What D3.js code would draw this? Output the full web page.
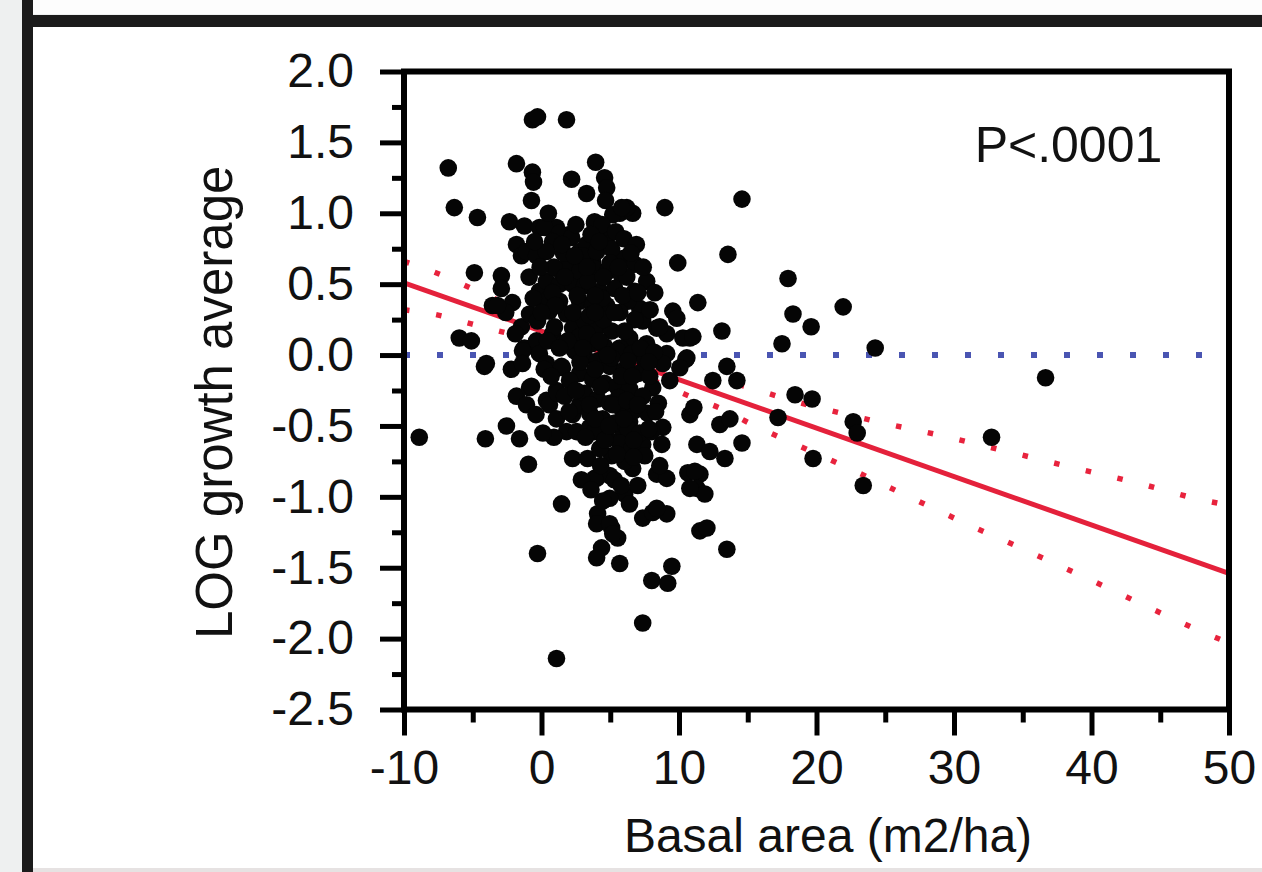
<!DOCTYPE html>
<html>
<head>
<meta charset="utf-8">
<script src="https://cdn.jsdelivr.net/npm/d3@7"></script>
<style>
  html, body { margin: 0; padding: 0; background: #eef0f0; }
  svg { display: block; }
  text { font-family: "Liberation Sans", Arial, sans-serif; fill: #111; }
</style>
</head>
<body>
<svg id="chart" width="1262" height="872"></svg>
<script>

// basal area (m2/ha) vs LOG growth average
var points = [
  [-0.66,1.66],[-0.29,1.68],[1.82,1.66],[-6.78,1.32],[-6.34,1.04],[-4.66,0.97],[-4.88,0.58],
  [-5.98,0.12],[-5.10,0.10],[-4.15,-0.08],[-8.89,-0.58],[-4.08,-0.59],[-0.95,-0.77],[-0.29,-1.40],
  [1.09,-2.14],[1.46,-1.05],[7.36,-1.89],[8.02,-1.59],[9.18,-1.61],[9.48,-1.49],[14.58,1.10],
  [8.97,1.04],[13.56,0.71],[9.91,0.65],[17.93,0.54],[18.29,0.29],[19.61,0.20],[21.94,0.34],
  [24.27,0.05],[11.37,0.37],[13.12,0.17],[17.49,0.08],[36.66,-0.16],[18.44,-0.28],[19.68,-0.31],
  [17.20,-0.44],[22.67,-0.47],[22.96,-0.55],[19.75,-0.73],[23.40,-0.92],[32.73,-0.58],[14.58,-0.62],
  [13.48,-0.08],[12.46,-0.18],[14.21,-0.18],[10.79,-0.42],[11.08,-0.37],[12.97,-0.49],[13.70,-0.45],
  [11.30,-0.63],[12.24,-0.68],[13.34,-0.73],[10.64,-0.83],[11.52,-0.84],[11.30,-0.94],[11.88,-0.98],
  [11.52,-1.24],[12.03,-1.22],[13.48,-1.37],[8.38,-0.84],[9.11,-0.87],[7.36,-1.15],[8.09,-1.11],
  [9.11,-1.12],[5.10,-1.22],[6.05,-0.98],[4.96,-1.01],[4.08,-1.12],[4.01,-1.19],[5.54,-1.29],
  [4.37,-1.36],[4.01,-1.43],[5.69,-1.47],[2.26,-0.73],[3.35,-0.73],[4.01,-0.87],[4.96,-0.85],
  [8.75,-0.63],[8.82,-0.51],[1.82,-0.54],[2.55,-0.54],[-2.55,-0.50],[-1.60,-0.59],[-1.82,-0.29],
  [-0.87,-0.23],[-1.09,-0.35],[0.36,-0.32],[1.09,-0.25],[-2.19,-0.10],[-1.24,0.05],[-3.57,0.35],
  [-2.11,0.37],[-1.46,0.20],[-2.92,0.56],[-2.92,0.47],[-1.82,0.78],[-1.46,0.70],[-1.09,0.73],
  [-0.15,0.71],[-2.33,0.94],[-1.24,0.91],[-0.15,0.90],[1.09,0.90],[2.04,0.85],[3.86,0.93],
  [5.69,1.00],[6.63,1.00],[6.20,1.04],[-1.82,1.35],[-0.66,1.29],[-0.58,1.22],[-0.73,1.09],
  [2.19,1.24],[3.94,1.36],[4.59,1.25],[4.74,1.18],[3.28,1.14],[4.66,1.09],[9.55,0.31],
  [9.84,0.26],[10.79,0.12],[9.11,0.15],[10.50,-0.03],
  [0.22,0.90],[1.31,0.86],[2.19,0.83],[0.80,0.80],[-0.36,0.70],[0.36,0.73],[-0.15,0.45],
  [0.36,0.52],[1.31,0.50],[2.26,0.50],[1.09,0.61],[2.04,0.65],[2.77,0.73],[-0.87,0.29],
  [-0.29,0.24],[0.58,0.31],[1.31,0.38],[1.82,0.29],[0.80,0.15],[-0.36,0.10],[-0.15,0.01],
  [-1.38,0.03],[-1.38,-0.06],[0.36,-0.06],[1.53,-0.09],[1.53,0.08],[2.26,0.19],[-4.01,-0.06],
  [3.86,0.94],[4.74,0.83],[5.18,0.99],
  [5.83,1.04],[4.74,0.85],[3.28,0.78],[5.90,0.68],[6.78,0.64],[3.72,0.66],[7.65,0.52],
  [8.24,0.44],[6.78,0.45],[7.14,0.33],[7.36,0.24],[8.38,0.19],[10.28,0.12],[11.01,0.13],
  [6.41,0.12],[7.65,0.08],[9.11,0.01],[10.57,-0.02],[5.69,0.05],
  [1.46,-0.08],[-0.73,-0.22],[0.58,-0.35],[1.17,-0.27],[1.09,-0.45],[2.26,-0.42],[2.77,-0.35],
  [3.50,-0.51],[4.45,-1.03],[4.96,-1.19],
  [3.86,-0.87],[6.63,-0.80],[11.15,-0.82],[10.79,-0.94],[5.18,-1.26],[8.38,-1.08],[7.36,-0.63],
  [6.41,-0.47],[5.90,-0.54],[8.09,-0.23],[9.33,-0.18],[10.06,-0.09],[8.82,-0.06],
  [2.99,0.70],[4.01,0.73],[5.10,0.75],[2.77,0.59],[3.86,0.61],[4.81,0.59],[5.83,0.56],
  [3.13,0.49],[4.23,0.45],[5.32,0.47],[6.27,0.38],[2.77,0.38],[3.72,0.35],[4.74,0.35],
  [5.69,0.30],[6.78,0.25],[3.13,0.24],[4.08,0.20],[5.10,0.17],[6.05,0.17],[2.77,0.13],
  [3.64,0.08],[4.59,0.06],[5.54,0.03],[6.56,0.01],[7.51,-0.04],[3.13,-0.01],[4.08,-0.04],
  [4.96,-0.08],[6.05,-0.10],[7.00,-0.13],[7.87,-0.15],[2.77,-0.13],[3.72,-0.17],[4.59,-0.20],
  [5.47,-0.22],[6.41,-0.24],[7.36,-0.29],[3.13,-0.27],[4.08,-0.31],[4.96,-0.34],[5.83,-0.38],
  [6.78,-0.39],[7.73,-0.41],[3.50,-0.41],[4.45,-0.45],[5.32,-0.48],[6.27,-0.52],[7.14,-0.55],
  [8.02,-0.54],[3.86,-0.54],[4.81,-0.59],[5.69,-0.62],[6.56,-0.66],[7.51,-0.71],[5.10,-0.71],
  [6.05,-0.75],[4.23,-0.66],[2.41,0.03],[2.04,-0.18],[1.68,-0.29],[0.22,0.38],[0.95,0.20],
  [0.44,0.10],
  [0.90,0.62],[1.60,0.72],[2.50,0.92],[3.40,0.52],[4.40,0.92],[5.40,0.87],[6.00,0.82],
  [6.90,0.78],[7.40,0.62],[6.20,0.55],[2.30,0.30],[3.50,0.28],[4.40,0.40],[5.90,0.42],
  [7.00,0.44],[7.90,0.32],[8.60,0.20],[2.30,0.05],[3.30,0.15],[4.20,0.10],[5.10,-0.02],
  [6.30,-0.04],[7.20,0.05],[8.20,0.02],[8.50,-0.34],[7.80,-0.52],[8.60,-0.78],[7.00,-0.92],
  [6.40,-1.05],[5.30,-0.88],[3.20,-0.58],[2.90,-0.88],[0.90,-0.58],[0.20,-0.10],[-0.60,0.40],
  [-0.90,0.55],[-0.10,0.62],[0.80,0.44],[1.90,0.10],[2.80,-0.05],[3.50,-0.35],[4.60,-0.60],
  [5.60,-0.30],[6.70,-0.60],[-2.60,0.30],[-1.90,0.15],[-3.20,0.35],[0.10,-0.55],[-0.40,-0.42],
  [3.60,0.85],[4.20,0.80],[5.00,0.65],[4.50,0.55],[3.30,0.62],[2.60,0.42],[3.90,0.42],
  [5.60,0.62],[6.50,0.72],[4.50,0.25],[5.30,0.30],[3.90,0.30],[3.00,0.05],[3.90,-0.10],
  [4.80,0.00],[5.80,-0.15],[6.60,-0.15],[4.30,-0.22],[5.20,-0.35],[6.20,-0.32],[3.90,-0.45],
  [4.90,-0.50],[6.00,-0.45],[7.00,-0.35],[4.30,-0.78],[5.50,-0.70],[6.70,-0.72],[3.60,-0.95],
  [5.80,-0.92],[1.00,0.35],[1.70,0.55],[0.00,0.30],[1.30,0.05],[0.70,-0.15],[2.00,-0.40],
  [1.50,0.78],[2.40,0.70],[-0.50,0.80],[0.50,1.00],[7.80,-0.05],[8.30,-0.40],[2.50,-0.25]
];

// fitted line and its confidence band
var fitLine = [[-10, 0.51], [50, -1.54]];
var upperBand = [[-10,0.66],[-7.14,0.56],[-5.08,0.47],[0,0.25],[5,0.05],[10.42,-0.11],[15.16,-0.23],
  [17.49,-0.30],[24.43,-0.47],[29.15,-0.57],[33.89,-0.68],[38.48,-0.79],[43.23,-0.90],[47.97,-1.02],[50,-1.06]];
var lowerBand = [[-10,0.32],[-7.43,0.28],[-5.10,0.22],[-2.70,0.16],[0,0.10],[5,-0.05],[11.01,-0.30],
  [13.12,-0.38],[15.31,-0.49],[17.57,-0.59],[21.94,-0.78],[26.31,-0.98],[30.69,-1.18],[35.06,-1.37],
  [39.58,-1.57],[43.95,-1.77],[48.47,-1.97],[50,-2.03]];
var zeroLine = [[-10, 0], [50, 0]];

var xMajor = [-10, 0, 10, 20, 30, 40, 50];
var xMinor = [-5, 5, 15, 25, 35, 45];
var yMajor = [2.0, 1.5, 1.0, 0.5, 0.0, -0.5, -1.0, -1.5, -2.0, -2.5];
var yMinor = [1.75, 1.25, 0.75, 0.25, -0.25, -0.75, -1.25, -1.75, -2.25];

var xTitle = 'Basal area (m2/ha)';
var yTitle = 'LOG growth average';
var pLabel = 'P<.0001';

var svg = d3.select('#chart');

// page frame around the panel
svg.append('rect').attr('x', 0).attr('y', 0).attr('width', 1262).attr('height', 872).attr('fill', '#eef0f0');
svg.append('rect').attr('x', 33).attr('y', 0).attr('width', 1229).attr('height', 14).attr('fill', '#fdfdfd');
svg.append('rect').attr('x', 33).attr('y', 27).attr('width', 1229).attr('height', 841).attr('fill', '#ffffff');
svg.append('rect').attr('x', 33).attr('y', 868).attr('width', 1229).attr('height', 4).attr('fill', '#e6e2e2');
svg.append('rect').attr('x', 22).attr('y', 0).attr('width', 11).attr('height', 872).attr('fill', '#1b1b1b');
svg.append('rect').attr('x', 22).attr('y', 15).attr('width', 1240).attr('height', 12).attr('fill', '#1b1b1b');

var margin = {top: 71.5, left: 404};
var width = 825, height = 638;

var x = d3.scaleLinear().domain([-10, 50]).range([0, width]);
var y = d3.scaleLinear().domain([-2.5, 2.0]).range([height, 0]);

var g = svg.append('g')
           .attr('transform', 'translate(' + margin.left + ',' + margin.top + ')');

g.append('clipPath').attr('id', 'plot-clip')
  .append('rect').attr('width', width).attr('height', height);

var line = d3.line().x(d => x(d[0])).y(d => y(d[1]));
var curve = d3.line().x(d => x(d[0])).y(d => y(d[1])).curve(d3.curveMonotoneX);

var lines = g.append('g').attr('clip-path', 'url(#plot-clip)');

lines.append('path')
     .datum(zeroLine)
     .attr('fill', 'none')
     .attr('stroke', '#4a55b2')
     .attr('stroke-width', 6)
     .attr('stroke-dasharray', '6 27')
     .attr('d', line);

[upperBand, lowerBand].forEach(band => {
  lines.append('path')
       .datum(band)
       .attr('fill', 'none')
       .attr('stroke', '#e8233d')
       .attr('stroke-width', 5.5)
       .attr('stroke-dasharray', '5.5 27')
       .attr('d', curve);
});

lines.append('path')
     .datum(fitLine)
     .attr('fill', 'none')
     .attr('stroke', '#e4213b')
     .attr('stroke-width', 5)
     .attr('d', line);

g.append('g')
  .selectAll('circle')
  .data(points)
  .enter()
  .append('circle')
  .attr('cx', d => x(d[0]))
  .attr('cy', d => y(d[1]))
  .attr('r', 8.8)
  .attr('fill', '#050505');

// axes: major ticks with labels, minor ticks without
function style_axis(sel, size)
{
  sel.select('.domain').remove();
  sel.selectAll('.tick line').attr('stroke', '#000').attr('stroke-width', 5);
  sel.selectAll('.tick text').attr('fill', '#111').style('font-size', size + 'px')
     .style('font-family', '"Liberation Sans", Arial, sans-serif');
}

g.append('g')
  .attr('transform', 'translate(0,' + height + ')')
  .call(d3.axisBottom(x).tickValues(xMajor).tickSize(26).tickPadding(14).tickFormat(d => String(d)))
  .call(s => style_axis(s, 48));

g.append('g')
  .attr('transform', 'translate(0,' + height + ')')
  .call(d3.axisBottom(x).tickValues(xMinor).tickSize(13).tickFormat(''))
  .call(s => style_axis(s, 48));

g.append('g')
  .call(d3.axisLeft(y).tickValues(yMajor).tickSize(24).tickPadding(26).tickFormat(d => d.toFixed(1)))
  .call(s => style_axis(s, 48));

g.append('g')
  .call(d3.axisLeft(y).tickValues(yMinor).tickSize(12).tickFormat(''))
  .call(s => style_axis(s, 48));

// plot frame
g.append('rect')
  .attr('width', width)
  .attr('height', height)
  .attr('fill', 'none')
  .attr('stroke', '#000')
  .attr('stroke-width', 6);

g.append('text')
  .text(pLabel)
  .attr('x', x(31.5))
  .attr('y', y(1.5) + 20)
  .attr('font-size', 50);

svg.append('text')
   .text(xTitle)
   .attr('text-anchor', 'middle')
   .attr('x', 828)
   .attr('y', 852)
   .attr('font-size', 48);

svg.append('text')
   .text(yTitle)
   .attr('text-anchor', 'start')
   .attr('transform', 'translate(232,639) rotate(-90)')
   .attr('font-size', 51);

</script>
</body>
</html>
